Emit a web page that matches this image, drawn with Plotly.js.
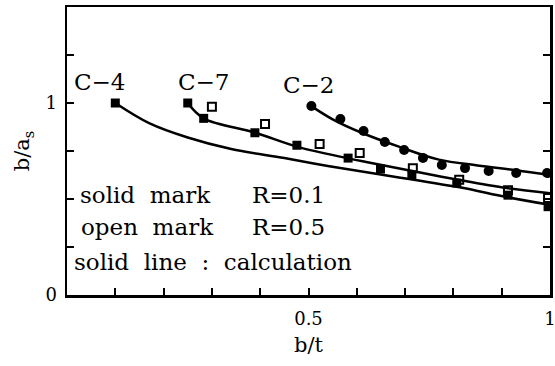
<!DOCTYPE html>
<html>
<head>
<meta charset="utf-8">
<script src="https://cdn.plot.ly/plotly-3.0.1.min.js"></script>
<style>
  html, body { margin: 0; padding: 0; background: #fff; }
  #chart { width: 555px; height: 366px; }
</style>
</head>
<body>
<div id="chart"></div>
<script>
// calculated curves (solid lines)
var c4_x = [0.10, 0.17, 0.25, 0.34, 0.45, 0.54, 0.63, 0.81, 0.91, 1.00];
var c4_y = [1.00, 0.895, 0.82, 0.76, 0.713, 0.672, 0.635, 0.562, 0.51, 0.47];

var c7_x = [0.25, 0.283, 0.39, 0.48, 0.58, 0.63, 0.71, 0.81, 0.91, 1.00];
var c7_y = [1.00, 0.92, 0.845, 0.77, 0.713, 0.688, 0.648, 0.60, 0.557, 0.53];

var c2_x = [0.505, 0.55, 0.61, 0.69, 0.77, 0.85, 0.93, 1.00];
var c2_y = [0.985, 0.915, 0.845, 0.77, 0.705, 0.675, 0.65, 0.625];

// measured points
var solidSq_x = [0.10, 0.25, 0.283, 0.389, 0.476, 0.582, 0.649, 0.714, 0.807, 0.913, 0.996];
var solidSq_y = [1.00, 1.00, 0.92, 0.845, 0.78, 0.713, 0.656, 0.625, 0.583, 0.52, 0.46];

var openSq_x = [0.30, 0.41, 0.523, 0.606, 0.716, 0.812, 0.913, 0.996];
var openSq_y = [0.98, 0.89, 0.787, 0.74, 0.66, 0.60, 0.545, 0.505];

var solidCirc_x = [0.506, 0.566, 0.614, 0.658, 0.698, 0.737, 0.776, 0.824, 0.873, 0.93, 0.994];
var solidCirc_y = [0.984, 0.917, 0.854, 0.797, 0.755, 0.714, 0.677, 0.661, 0.646, 0.635, 0.635];

// ticks: labelled ones and unlabelled (minor) ones
var xTickVals = [0.5, 1.0];
var xTickText = ['0.5', '1'];
var xMinorVals = [0.1, 0.2, 0.3, 0.4, 0.6, 0.7, 0.8, 0.9];
var yTickVals = [0, 1];
var yTickText = ['0', '1'];
var yMinorVals = [0.25, 0.5, 0.75, 1.25];

var serif = 'DejaVu Serif, Liberation Serif, serif';

function curve(x, y) {
    return {
        x: x, y: y, mode: 'lines', type: 'scatter',
        line: {color: '#000', width: 2.5, shape: 'spline', smoothing: 1},
        hoverinfo: 'skip'
    };
}

var data = [
    curve(c4_x, c4_y),
    curve(c7_x, c7_y),
    curve(c2_x, c2_y),
    {
        x: solidSq_x, y: solidSq_y, mode: 'markers', type: 'scatter',
        marker: {symbol: 'square', size: 9, color: '#000'}
    },
    {
        x: openSq_x, y: openSq_y, mode: 'markers', type: 'scatter',
        marker: {symbol: 'square-open', size: 8, color: '#000', line: {width: 2, color: '#000'}}
    },
    {
        x: solidCirc_x, y: solidCirc_y, mode: 'markers', type: 'scatter',
        marker: {symbol: 'circle', size: 10, color: '#000'}
    }
];

function note(x, y, text, size, anchor) {
    return {
        x: x, y: y, xref: 'x', yref: 'y', text: text, showarrow: false,
        xanchor: anchor || 'left', yanchor: 'middle',
        font: {family: serif, size: size, color: '#000'}
    };
}

var layout = {
    width: 555,
    height: 366,
    margin: {l: 67, r: 5, t: 7, b: 71},
    paper_bgcolor: '#fff',
    plot_bgcolor: '#fff',
    showlegend: false,
    font: {family: serif, color: '#000'},
    xaxis: {
        range: [0, 1],
        tickvals: xTickVals,
        ticktext: xTickText,
        ticks: 'inside',
        ticklen: 7,
        tickwidth: 2,
        tickcolor: '#000',
        ticklabelstandoff: 6,
        ticklabeloverflow: 'allow',
        minor: {tickvals: xMinorVals, ticks: 'inside', ticklen: 7, tickwidth: 2, tickcolor: '#000', showgrid: false},
        showline: true,
        linecolor: '#000',
        linewidth: 2.5,
        mirror: true,
        showgrid: false,
        zeroline: false,
        tickfont: {family: serif, size: 18},
        title: {text: 'b/t', font: {family: serif, size: 21}, standoff: 9}
    },
    yaxis: {
        range: [0, 1.5],
        tickvals: yTickVals,
        ticktext: yTickText,
        ticks: 'inside',
        ticklen: 7,
        tickwidth: 2,
        tickcolor: '#000',
        ticklabelstandoff: 4,
        minor: {tickvals: yMinorVals, ticks: 'inside', ticklen: 7, tickwidth: 2, tickcolor: '#000', showgrid: false},
        showline: true,
        linecolor: '#000',
        linewidth: 2.5,
        mirror: 'ticks',
        showgrid: false,
        zeroline: false,
        tickfont: {family: serif, size: 18},
        title: {text: 'b/a<sub>s</sub>', font: {family: serif, size: 21}, standoff: 10}
    },
    annotations: [
        note(0.069, 1.11, 'C\u22124', 23, 'center'),
        note(0.283, 1.11, 'C\u22127', 23, 'center'),
        note(0.50, 1.095, 'C\u22122', 23, 'center'),
        note(0.022, 0.52, 'solid\u00a0 mark', 23),
        note(0.378, 0.52, 'R=0.1', 23),
        note(0.025, 0.354, 'open\u00a0 mark', 23),
        note(0.378, 0.354, 'R=0.5', 23),
        note(0.011, 0.172, 'solid\u00a0 line\u00a0 :\u00a0 calculation', 23)
    ]
};

Plotly.newPlot('chart', data, layout, {displayModeBar: false, staticPlot: true});
</script>
</body>
</html>
